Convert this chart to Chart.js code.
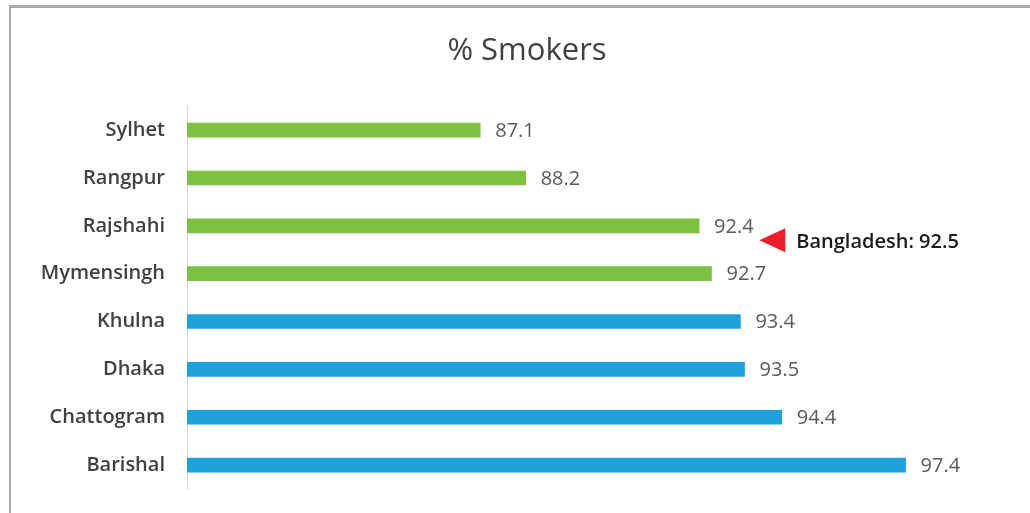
<!DOCTYPE html>
<html>
<head>
<meta charset="utf-8">
<title>% Smokers</title>
<script src="https://cdn.jsdelivr.net/npm/chart.js@4.4.1/dist/chart.umd.min.js"></script>
<style>
  html, body { margin: 0; padding: 0; background: #fff; }
  #wrap { position: relative; width: 1030px; height: 513px; overflow: hidden; }
  #frame {
    position: absolute; left: 9px; top: 5px; width: 1040px; height: 520px;
    border-top: 3px solid #a9a9a9; border-left: 2px solid #a9a9a9;
  }
  #chart { position: absolute; left: 0; top: 0; }
</style>
</head>
<body>
<div id="wrap">
  <div id="frame"></div>
  <canvas id="chart" width="1030" height="513"></canvas>
</div>
<script>
// --- Data ---
const divisions = ['Sylhet', 'Rangpur', 'Rajshahi', 'Mymensingh', 'Khulna', 'Dhaka', 'Chattogram', 'Barishal'];
const smokers = [87.1, 88.2, 92.4, 92.7, 93.4, 93.5, 94.4, 97.4];
const national = 92.5;
const axisMin = 80;
const axisMax = 100;

const GREEN = '#7cc142';
const BLUE = '#1fa2dc';
const FONT = "'Open Sans', sans-serif";

// lower half of the divisions in green, upper half in blue
const sorted = [...smokers].sort((a, b) => a - b);
const median = (sorted[3] + sorted[4]) / 2;
const barColors = smokers.map(v => v < median ? GREEN : BLUE);

// value text at the end of every bar
const valueLabels = {
  id: 'valueLabels',
  afterDatasetsDraw(chart) {
    const { ctx } = chart;
    const meta = chart.getDatasetMeta(0);
    ctx.save();
    ctx.font = '20px ' + FONT;
    ctx.fillStyle = '#595959';
    ctx.textAlign = 'left';
    ctx.textBaseline = 'middle';
    meta.data.forEach((bar, i) => {
      ctx.fillText(smokers[i].toFixed(1), bar.x + 15, bar.y + 1);
    });
    ctx.restore();
  }
};

// national reference marker: red arrow + text
const nationalNote = {
  id: 'nationalNote',
  afterDraw(chart) {
    const { ctx, scales: { x, y } } = chart;
    const tipX = x.getPixelForValue(national) + 56;
    const rowGap = y.getPixelForValue(3) - y.getPixelForValue(2);
    const midY = y.getPixelForValue(2) + rowGap * 0.3;
    ctx.save();
    ctx.fillStyle = '#e8202a';
    ctx.beginPath();
    ctx.moveTo(tipX, midY);
    ctx.lineTo(tipX + 26, midY - 12);
    ctx.lineTo(tipX + 26, midY + 12);
    ctx.closePath();
    ctx.fill();
    ctx.font = '600 20px ' + FONT;
    ctx.fillStyle = '#1a1a1a';
    ctx.textAlign = 'left';
    ctx.textBaseline = 'middle';
    ctx.fillText('Bangladesh: ' + national.toFixed(1), tipX + 37, midY + 2);
    ctx.restore();
  }
};

new Chart(document.getElementById('chart'), {
  type: 'bar',
  data: {
    labels: divisions,
    datasets: [{
      data: smokers,
      backgroundColor: barColors,
      barThickness: 14,
      borderWidth: 0
    }]
  },
  options: {
    indexAxis: 'y',
    responsive: false,
    animation: false,
    layout: { padding: { left: 41, right: 17, top: 0, bottom: 24 } },
    scales: {
      x: {
        display: false,
        min: axisMin,
        max: axisMax
      },
      y: {
        grid: { display: false, drawTicks: false },
        border: { display: true, color: '#d9d9d9', width: 1 },
        ticks: {
          padding: 22,
          color: '#404040',
          font: { family: FONT, size: 20, weight: '600' }
        },
        afterFit(scale) {
          scale.width = 146;
          // no extra room above/below the category band
          scale.paddingTop = 0;
          scale.paddingBottom = 0;
        }
      }
    },
    plugins: {
      legend: { display: false },
      tooltip: { enabled: false },
      title: {
        display: true,
        text: '% Smokers',
        color: '#404040',
        font: { family: FONT, size: 31, weight: 'normal' },
        padding: { top: 33, bottom: 36 }
      }
    }
  },
  plugins: [valueLabels, nationalNote]
});
</script>
</body>
</html>
